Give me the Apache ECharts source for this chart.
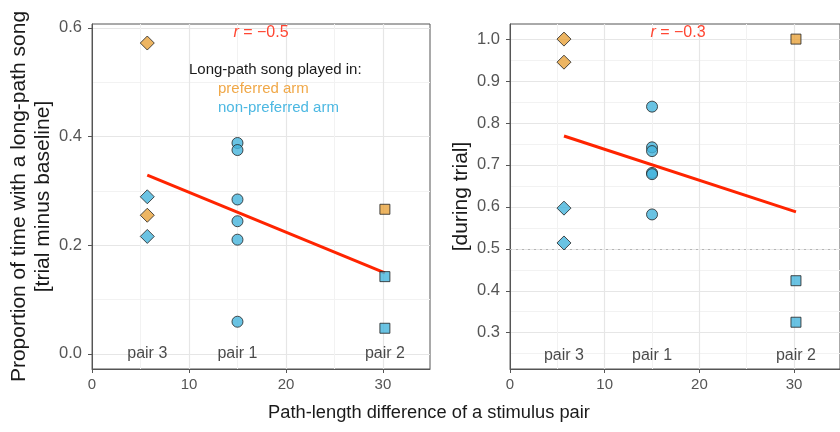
<!DOCTYPE html>
<html>
<head>
<meta charset="utf-8">
<script src="https://cdn.jsdelivr.net/npm/echarts@6.0.0/dist/echarts.min.js"></script>
<style>
html,body{margin:0;padding:0;background:#fff;}
#chart{width:840px;height:432px;}
</style>
</head>
<body>
<div id="chart"></div>
<script>
// stimulus pairs
var pairNames = ['pair 3', 'pair 1', 'pair 2'];
var pairX = [5.7, 15, 30.2];
var pairSymbols = ['diamond', 'circle', 'rect'];
var armNames = ['preferred arm', 'non-preferred arm'];

// left panel: trial minus baseline   (arm 0 = preferred, 1 = non-preferred)
var leftPair = [0, 0, 0, 0, 1, 1, 1, 1, 1, 1, 2, 2, 2];
var leftArm  = [0, 1, 0, 1, 1, 1, 1, 1, 1, 1, 0, 1, 1];
var leftVals = [0.572, 0.289, 0.255, 0.216, 0.388, 0.375, 0.284, 0.244, 0.210, 0.059, 0.266, 0.142, 0.047];
var leftFitX = [5.7, 30.2];
var leftFitY = [0.329, 0.149];
var leftR = '−0.5';

// right panel: during trial
var rightPair = [0, 0, 0, 0, 1, 1, 1, 1, 1, 1, 2, 2, 2];
var rightArm  = [0, 0, 1, 1, 1, 1, 1, 1, 1, 1, 0, 1, 1];
var rightVals = [1.0, 0.945, 0.597, 0.514, 0.839, 0.742, 0.733, 0.681, 0.678, 0.582, 1.0, 0.424, 0.325];
var rightFitX = [5.7, 30.2];
var rightFitY = [0.769, 0.588];
var rightR = '−0.3';
var chanceLevel = 0.5;

// ticks
var xTicks = [0, 10, 20, 30];
var xMinor = [5, 15, 25];
var leftYTicks = [0, 0.2, 0.4, 0.6];
var leftYMinor = [0.1, 0.3, 0.5];
var rightYTicks = [0.3, 0.4, 0.5, 0.6, 0.7, 0.8, 0.9, 1.0];
var rightYMinor = [0.25, 0.35, 0.45, 0.55, 0.65, 0.75, 0.85, 0.95];

var armColors = ['#e9a23b', '#45b4dc'];
var textColors = ['#f0a848', '#4cb8e2'];
var FONT = '"Liberation Sans", Arial, sans-serif';

var chart = echarts.init(document.getElementById('chart'));

function mainX(g) {
	return {
		gridIndex: g, type: 'value', min: 0, max: 34.85,
		axisLine: {show: true, onZero: false, lineStyle: {color: '#555', width: 1}},
		axisTick: {show: true, length: 4, lineStyle: {color: '#555'}, customValues: xTicks},
		axisLabel: {customValues: xTicks, color: '#555', fontSize: 15, fontFamily: FONT, margin: 8},
		splitLine: {show: true, lineStyle: {color: '#e6e6e6', width: 1.2}}
	};
}
function minorX(g) {
	return {
		gridIndex: g, type: 'value', min: 0, max: 34.85, position: 'bottom',
		axisLine: {show: false, onZero: false}, axisLabel: {show: false},
		axisTick: {show: false, customValues: xMinor},
		splitLine: {show: true, lineStyle: {color: '#f2f2f2', width: 1}}
	};
}
function mainY(g, min, max, ticks, name, gap) {
	return {
		gridIndex: g, type: 'value', min: min, max: max,
		name: name, nameLocation: 'middle', nameRotate: 90, nameGap: gap,
		nameTextStyle: {fontSize: 21, color: '#1a1a1a', fontFamily: FONT, lineHeight: 24},
		axisLine: {show: true, onZero: false, lineStyle: {color: '#555', width: 1}},
		axisTick: {show: true, length: 4, lineStyle: {color: '#555'}, customValues: ticks},
		axisLabel: {customValues: ticks, color: '#555', fontSize: 16.5, fontFamily: FONT, margin: 10,
			formatter: function (v) { return v.toFixed(1); }},
		splitLine: {show: true, lineStyle: {color: '#e6e6e6', width: 1.2}}
	};
}
function minorY(g, min, max, ticks) {
	return {
		gridIndex: g, type: 'value', min: min, max: max, position: 'left',
		axisLine: {show: false, onZero: false}, axisLabel: {show: false},
		axisTick: {show: false, customValues: ticks},
		splitLine: {show: true, lineStyle: {color: '#f2f2f2', width: 1}}
	};
}

function pointSeries(pairs, arms, vals, xi, yi) {
	var out = [];
	for (var p = 0; p < pairNames.length; p++) {
		var data = [];
		for (var i = 0; i < vals.length; i++) {
			if (pairs[i] != p) continue;
			data.push({value: [pairX[p], vals[i]], itemStyle: {color: armColors[arms[i]]}});
		}
		out.push({
			name: pairNames[p], type: 'scatter', xAxisIndex: xi, yAxisIndex: yi,
			symbol: pairSymbols[p],
			symbolSize: p == 0 ? 14 : (p == 1 ? 11 : 10),
			itemStyle: {borderColor: '#222', borderWidth: 1},
			z: 5,
			data: data
		});
	}
	return out;
}

function pairLabels(yv, xi, yi) {
	var data = [];
	for (var p = 0; p < pairNames.length; p++) data.push({name: pairNames[p], value: [pairX[p], yv]});
	return {
		type: 'scatter', xAxisIndex: xi, yAxisIndex: yi, symbolSize: 0, silent: true,
		label: {show: true, position: 'inside', formatter: '{b}', color: '#1a1a1a', fontSize: 16, fontFamily: FONT},
		data: data
	};
}

function fitSeries(xs, ys, xi, yi) {
	var data = [];
	for (var i = 0; i < xs.length; i++) data.push([xs[i], ys[i]]);
	return {
		type: 'line', xAxisIndex: xi, yAxisIndex: yi, symbol: 'none', z: 3,
		lineStyle: {color: '#ff2400', width: 3}, data: data
	};
}

var series = [];
series.push(fitSeries(leftFitX, leftFitY, 0, 0));
var rightFit = fitSeries(rightFitX, rightFitY, 2, 2);
rightFit.markLine = {
	silent: true, symbol: 'none', label: {show: false},
	lineStyle: {type: [2, 4], color: '#b5b5b5', width: 1},
	data: [{yAxis: chanceLevel}]
};
series.push(rightFit);
series = series.concat(pointSeries(leftPair, leftArm, leftVals, 0, 0));
series = series.concat(pointSeries(rightPair, rightArm, rightVals, 2, 2));
series.push(pairLabels(0, 0, 0));
series.push(pairLabels(0.245, 2, 2));

var rStyle = {
	fill: '#ff4632', fontSize: 16, fontFamily: FONT, align: 'center', verticalAlign: 'middle',
	rich: {i: {fontStyle: 'italic', fill: '#ff4632', fontSize: 16, fontFamily: FONT}}
};

var option = {
	animation: false,
	backgroundColor: '#fff',
	textStyle: {fontFamily: FONT},
	grid: [
		{left: 92, top: 24, width: 338, height: 345, show: true, borderColor: '#555', borderWidth: 1, backgroundColor: '#fff'},
		{left: 510, top: 24, width: 338, height: 345, show: true, borderColor: '#555', borderWidth: 1, backgroundColor: '#fff'}
	],
	xAxis: [mainX(0), minorX(0), mainX(1), minorX(1)],
	yAxis: [
		mainY(0, -0.028, 0.607, leftYTicks, 'Proportion of time with a long-path song\n[trial minus baseline]', 37),
		minorY(0, -0.028, 0.607, leftYMinor),
		mainY(1, 0.2135, 1.036, rightYTicks, '[during trial]', 37),
		minorY(1, 0.2135, 1.036, rightYMinor)
	],
	series: series,
	graphic: [
		{type: 'text', z: 100, x: 261, y: 33, style: echarts.util.extend({text: '{i|r} = ' + leftR}, rStyle)},
		{type: 'text', z: 100, x: 678, y: 33, style: echarts.util.extend({text: '{i|r} = ' + rightR}, rStyle)},
		{type: 'text', z: 100, x: 189, y: 70, style: {text: 'Long-path song played in:', fill: '#1a1a1a', fontSize: 15, fontFamily: FONT, verticalAlign: 'middle'}},
		{type: 'text', z: 100, x: 218, y: 89, style: {text: armNames[0], fill: textColors[0], fontSize: 15, fontFamily: FONT, verticalAlign: 'middle'}},
		{type: 'text', z: 100, x: 218, y: 108, style: {text: armNames[1], fill: textColors[1], fontSize: 15, fontFamily: FONT, verticalAlign: 'middle'}},
		{type: 'text', z: 100, x: 429, y: 413, style: {text: 'Path-length difference of a stimulus pair', fill: '#1a1a1a', fontSize: 18.3, fontFamily: FONT, align: 'center', verticalAlign: 'middle'}}
	]
};
chart.setOption(option);
</script>
</body>
</html>
